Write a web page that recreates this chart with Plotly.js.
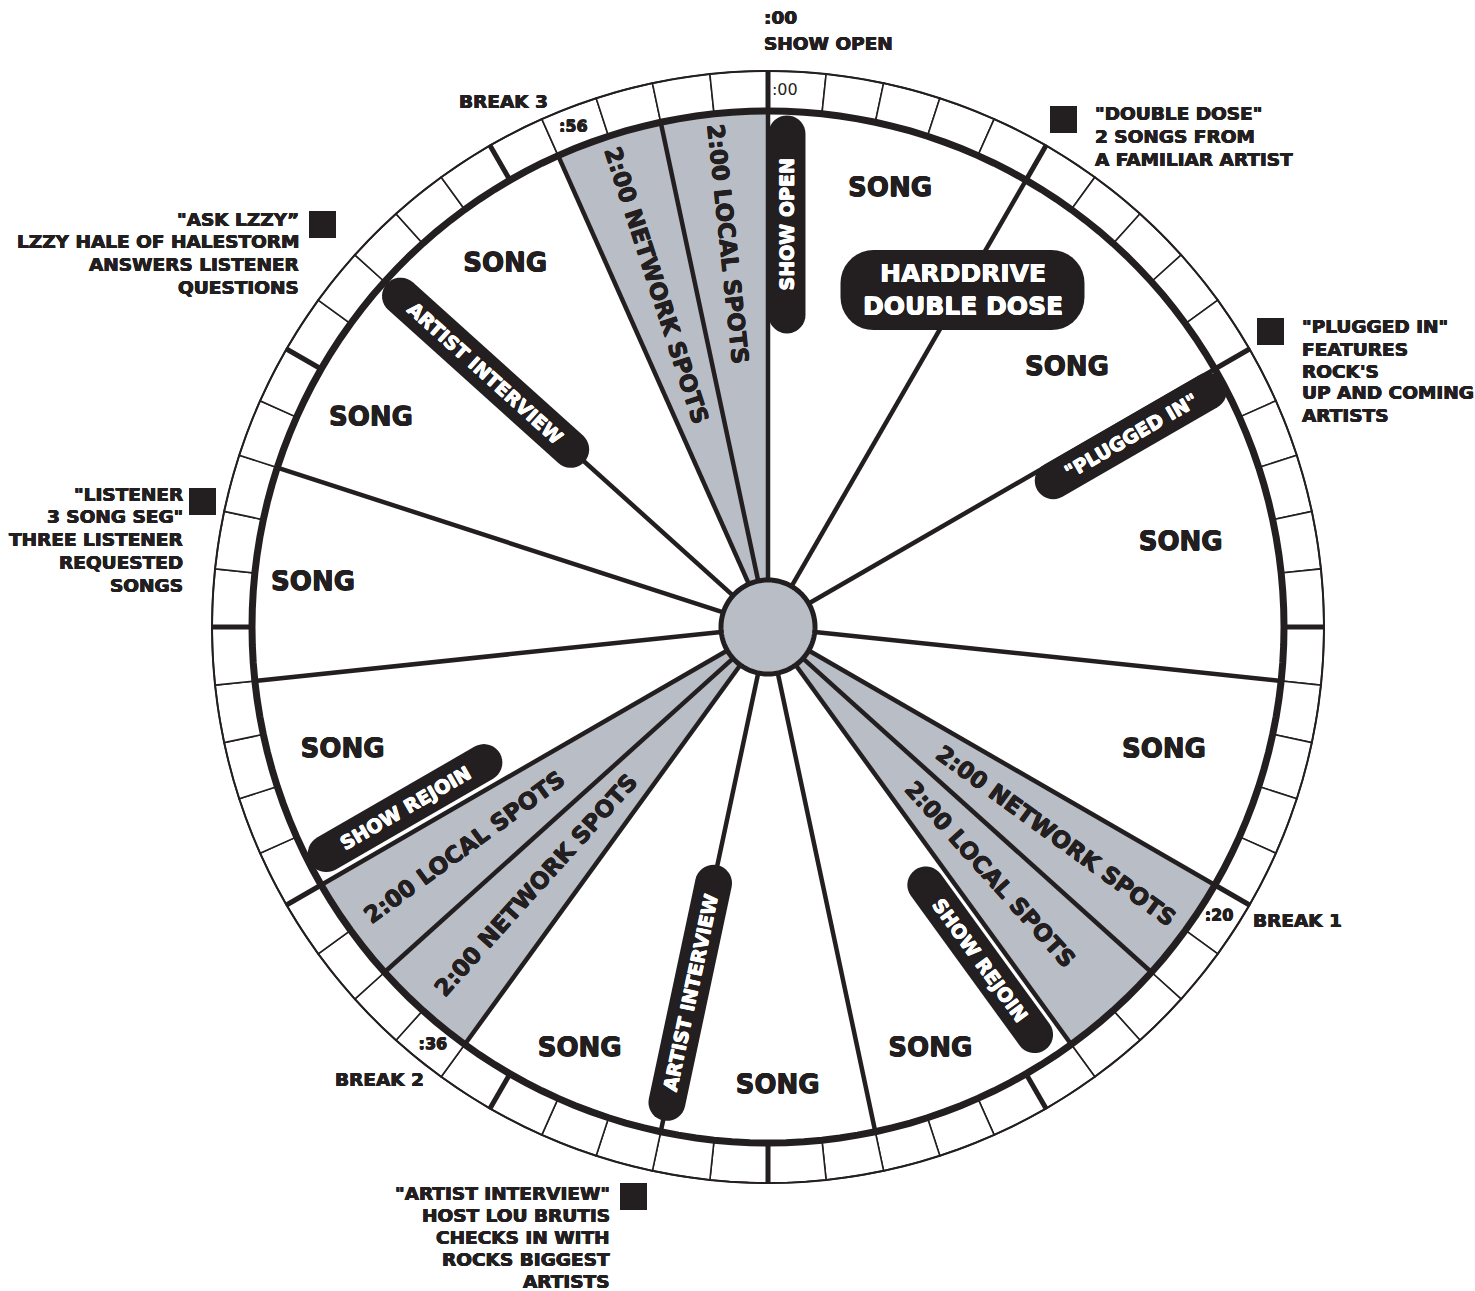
<!DOCTYPE html>
<html><head><meta charset="utf-8">
<script src="https://cdn.plot.ly/plotly-3.0.1.min.js"></script>
<style>html,body{margin:0;padding:0;background:#fff}</style>
</head><body><div id="chart" style="width:1475px;height:1291px"></div>
<script>
// ================= DATA =================
// clock segments (minutes past the hour)
const segStart = [0, 5, 10, 16, 20, 22, 24, 28, 32, 36, 38, 40, 44, 48, 52, 56, 58];
const segEnd   = [5, 10, 16, 20, 22, 24, 28, 32, 36, 38, 40, 44, 48, 52, 56, 58, 60];
const segKind  = ['song','song','song','song','network','local','song','song','song','network','local','song','song','song','song','network','local'];
const spotText = {network: '2:00 NETWORK SPOTS', local: '2:00 LOCAL SPOTS'};
const songText = 'SONG';
// song label minute positions
const songMin = [2.6, 8.2, 13.1, 17.9, 26.5, 29.8, 34.0, 42.3, 45.9, 49.6, 54.0];
// minute cells of the outer ring
const ringMinutes = Array.from({length: 60}, (_, i) => i);
const majorTickMinutes = [0, 5, 10, 15, 20, 25, 30, 35, 40, 45, 50, 55];
// break / cue labels in the ring
const cueMin = [0, 20, 36, 56];
const cueText = [':00', ':20', ':36', ':56'];
// pill features
const pillText = ['SHOW OPEN', '"PLUGGED IN"', 'SHOW REJOIN', 'ARTIST INTERVIEW', 'SHOW REJOIN', 'ARTIST INTERVIEW'];
const pillMin  = [0.45, 10.37, 24.58, 32.0, 40.58, 52.0];   // where the pill sits
const pillAxisMin = [0, 10, 24, 32, 40, 52];               // radial line it runs parallel to
const featureTitle = 'HARDDRIVE<br>DOUBLE DOSE';
const featureMin = 5;
// notes outside the clock
const noteLines = [
  ['"DOUBLE DOSE"', '2 SONGS FROM', 'A FAMILIAR ARTIST'],
  ['"PLUGGED IN"', 'FEATURES', 'ROCK\'S', 'UP AND COMING', 'ARTISTS'],
  ['"ASK LZZY”', 'LZZY HALE OF HALESTORM', 'ANSWERS LISTENER', 'QUESTIONS'],
  ['"LISTENER', '3 SONG SEG"', 'THREE LISTENER', 'REQUESTED', 'SONGS'],
  ['"ARTIST INTERVIEW"', 'HOST LOU BRUTIS', 'CHECKS IN WITH', 'ROCKS BIGGEST', 'ARTISTS']
];
const breakText = ['BREAK 1', 'BREAK 2', 'BREAK 3'];
const topText = [':00', 'SHOW OPEN'];

// ================= LAYOUT / STYLE =================
const W = 1475, H = 1291, CX = 768, CY = 627, RMAX = 560;
const R_HUB = 47, R_IN = 516, R_OUT = 556, R_CUE = 536;
const INK = '#231f20', GRAY = '#b9bdc5';
const FONT = 'DejaVu Sans';
const thick = c => { const d = '0.45px'; return `${d} 0 0 ${c}, -${d} 0 0 ${c}, 0 ${d} 0 ${c}, 0 -${d} 0 ${c}`; };
const songR = [454, 395, 421, 415, 453, 460, 463, 443, 457, 448, 447];
const spotR = {20: 356, 22: 332, 36: 347, 38: 375, 56: 359, 58: 385};
const pillR = [403, 410, 394.7, 374, 405.6, 380];
const pillLen = [218, 216, 222, 261, 219, 266];
const PILL_T = 37;
const featureR = 389;

const deg = m => m * 6;
const toXY = (r, m) => { const a = m * 6 * Math.PI / 180; return [CX + r * Math.sin(a), CY - r * Math.cos(a)]; };
const px2paper = (x, y) => [x / W, 1 - y / H];
const readAngle = m => { const d = m * 6; return d < 180 ? d - 90 : d - 270; };

const traces = [];
// grey spot wedges
const spotIdx = segKind.map((k, i) => k !== 'song' ? i : -1).filter(i => i >= 0);
traces.push({type: 'barpolar', r: spotIdx.map(() => R_IN), base: spotIdx.map(() => 0),
  theta: spotIdx.map(i => deg((segStart[i] + segEnd[i]) / 2)), width: spotIdx.map(i => deg(segEnd[i] - segStart[i])),
  marker: {color: GRAY, line: {width: 0}}, hoverinfo: 'skip'});
// minute ring cells
traces.push({type: 'barpolar', r: ringMinutes.map(() => R_OUT - R_IN), base: ringMinutes.map(() => R_IN),
  theta: ringMinutes.map(m => deg(m + 0.5)), width: ringMinutes.map(() => 6),
  marker: {color: '#ffffff', line: {color: INK, width: 1.6}}, hoverinfo: 'skip'});
// radial segment lines
const lr = [], lt = [];
segStart.forEach(m => { lr.push(R_HUB, R_IN, null); lt.push(deg(m), deg(m), null); });
traces.push({type: 'scatterpolar', mode: 'lines', r: lr, theta: lt, connectgaps: false,
  line: {color: INK, width: 4.5}, hoverinfo: 'skip'});
// five minute ticks
const tr = [], tt = [];
majorTickMinutes.forEach(m => { tr.push(R_IN, R_OUT, null); tt.push(deg(m), deg(m), null); });
traces.push({type: 'scatterpolar', mode: 'lines', r: tr, theta: tt, connectgaps: false,
  line: {color: INK, width: 5}, hoverinfo: 'skip'});
// circles
const circT = Array.from({length: 181}, (_, i) => i * 2);
traces.push({type: 'scatterpolar', mode: 'lines', r: circT.map(() => R_IN), theta: circT,
  line: {color: INK, width: 7}, hoverinfo: 'skip'});
traces.push({type: 'scatterpolar', mode: 'lines', r: circT.map(() => R_OUT), theta: circT,
  line: {color: INK, width: 2}, hoverinfo: 'skip'});
// hub
traces.push({type: 'scatterpolar', mode: 'lines', fill: 'toself', r: circT.map(() => R_HUB), theta: circT,
  fillcolor: GRAY, line: {color: INK, width: 5}, hoverinfo: 'skip'});
// SONG labels
traces.push({type: 'scatterpolar', mode: 'text', r: songR, theta: songMin.map(deg),
  text: songMin.map(() => songText), textfont: {family: FONT, size: 26, color: INK, weight: 'bold', shadow: thick(INK)}, hoverinfo: 'skip'});
// ring cue labels
traces.push({type: 'scatterpolar', mode: 'text', r: [R_CUE], theta: [deg(cueMin[0] + 0.3)], text: [cueText[0]],
  textfont: {family: FONT, size: 16, color: INK}, hoverinfo: 'skip'});
traces.push({type: 'scatterpolar', mode: 'text', r: cueMin.slice(1).map(() => R_CUE),
  theta: cueMin.slice(1).map(m => deg(m + 0.45)), text: cueText.slice(1),
  textfont: {family: FONT, size: 16, color: INK, weight: 'bold', shadow: thick(INK)}, hoverinfo: 'skip'});

// ---------- shapes & annotations ----------
const shapes = [], annotations = [];
function polyPath(pts) {
  return 'M' + pts.map(p => { const q = px2paper(p[0], p[1]); return q[0].toFixed(6) + ',' + q[1].toFixed(6); }).join('L') + 'Z';
}
function pillPts(cx, cy, angDeg, len, thickness) {
  const a = angDeg * Math.PI / 180, ux = Math.cos(a), uy = Math.sin(a), nx = -uy, ny = ux;
  const rr = thickness / 2, half = len / 2 - rr, pts = [];
  const e1 = [cx + ux * half, cy + uy * half], e2 = [cx - ux * half, cy - uy * half];
  for (let k = 0; k <= 18; k++) { const t = (-90 + k * 10) * Math.PI / 180;
    pts.push([e1[0] + rr * (ux * Math.cos(t) + nx * Math.sin(t)), e1[1] + rr * (uy * Math.cos(t) + ny * Math.sin(t))]); }
  for (let k = 0; k <= 18; k++) { const t = (90 + k * 10) * Math.PI / 180;
    pts.push([e2[0] + rr * (ux * Math.cos(t) + nx * Math.sin(t)), e2[1] + rr * (uy * Math.cos(t) + ny * Math.sin(t))]); }
  return pts;
}
function roundRectPts(cx, cy, w, h, rad) {
  const pts = [], corners = [[cx + w/2 - rad, cy - h/2 + rad, -90], [cx + w/2 - rad, cy + h/2 - rad, 0],
    [cx - w/2 + rad, cy + h/2 - rad, 90], [cx - w/2 + rad, cy - h/2 + rad, 180]];
  corners.forEach(c => { for (let k = 0; k <= 9; k++) { const t = (c[2] + k * 10) * Math.PI / 180;
    pts.push([c[0] + rad * Math.cos(t), c[1] + rad * Math.sin(t)]); } });
  return pts;
}
function addText(x, y, text, size, opts, color) {
  const p = px2paper(x, y), col = color || INK;
  annotations.push(Object.assign({xref: 'paper', yref: 'paper', x: p[0], y: p[1], text: text, showarrow: false,
    xanchor: 'center', yanchor: 'middle',
    font: {family: FONT, size: size, color: col, weight: 'bold', shadow: thick(col)}}, opts || {}));
}
// spot labels
spotIdx.forEach(i => {
  const mid = (segStart[i] + segEnd[i]) / 2, p = toXY(spotR[segStart[i]], mid);
  addText(p[0], p[1], spotText[segKind[i]], 23, {textangle: readAngle(mid)});
});
// pills
pillText.forEach((t, i) => {
  const c = toXY(pillR[i], pillMin[i]);
  shapes.push({type: 'path', xref: 'paper', yref: 'paper', layer: 'above', path: polyPath(pillPts(c[0], c[1], deg(pillAxisMin[i]) - 90, pillLen[i], PILL_T)),
    fillcolor: INK, line: {width: 0}});
  addText(c[0], c[1], t, 19, {textangle: readAngle(pillAxisMin[i])}, '#ffffff');
});
// feature pill
const fc = toXY(featureR, featureMin);
shapes.push({type: 'path', xref: 'paper', yref: 'paper', layer: 'above', path: polyPath(roundRectPts(fc[0], fc[1], 244, 80, 33)),
  fillcolor: INK, line: {width: 0}});
addText(fc[0], fc[1], featureTitle, 25, {}, '#ffffff');
// notes (one annotation per line)
const noteAnchor = [[1093, 114, 'left', 22.5], [1300, 327, 'left', 22], [301, 219, 'right', 22.7], [185, 494, 'right', 22.8], [612, 1193, 'right', 22]];
const squarePos = [[1050, 106], [1257, 318], [309, 211], [189, 488], [620, 1183]];
noteLines.forEach((lines, i) => {
  const na = noteAnchor[i];
  lines.forEach((ln, j) => addText(na[0], na[1] + j * na[3], ln, 18.5, {xanchor: na[2]}));
  const a = px2paper(squarePos[i][0], squarePos[i][1]), b = px2paper(squarePos[i][0] + 27, squarePos[i][1] + 27);
  shapes.push({type: 'rect', xref: 'paper', yref: 'paper', x0: a[0], y0: a[1], x1: b[0], y1: b[1], fillcolor: INK, line: {width: 0}});
});
// break labels
addText(1251, 920, breakText[0], 18.5, {xanchor: 'left'});
addText(379, 1079, breakText[1], 18.5);
addText(503, 101, breakText[2], 18.5);
addText(762, 17, topText[0], 18.5, {xanchor: 'left'});
addText(762, 44, topText[1], 18.5, {xanchor: 'left'});

const layout = {
  width: W, height: H, margin: {l: 0, r: 0, t: 0, b: 0}, showlegend: false,
  paper_bgcolor: '#ffffff',
  polar: {
    domain: {x: [(CX - RMAX) / W, (CX + RMAX) / W], y: [(H - CY - RMAX) / H, (H - CY + RMAX) / H]},
    bgcolor: 'rgba(0,0,0,0)',
    radialaxis: {visible: false, range: [0, RMAX], showgrid: false, showline: false},
    angularaxis: {visible: false, rotation: 90, direction: 'clockwise', thetaunit: 'degrees', showgrid: false, showline: false, ticks: ''}
  },
  shapes: shapes, annotations: annotations
};
Plotly.newPlot('chart', traces, layout, {displayModeBar: false, staticPlot: true});
</script></body></html>
